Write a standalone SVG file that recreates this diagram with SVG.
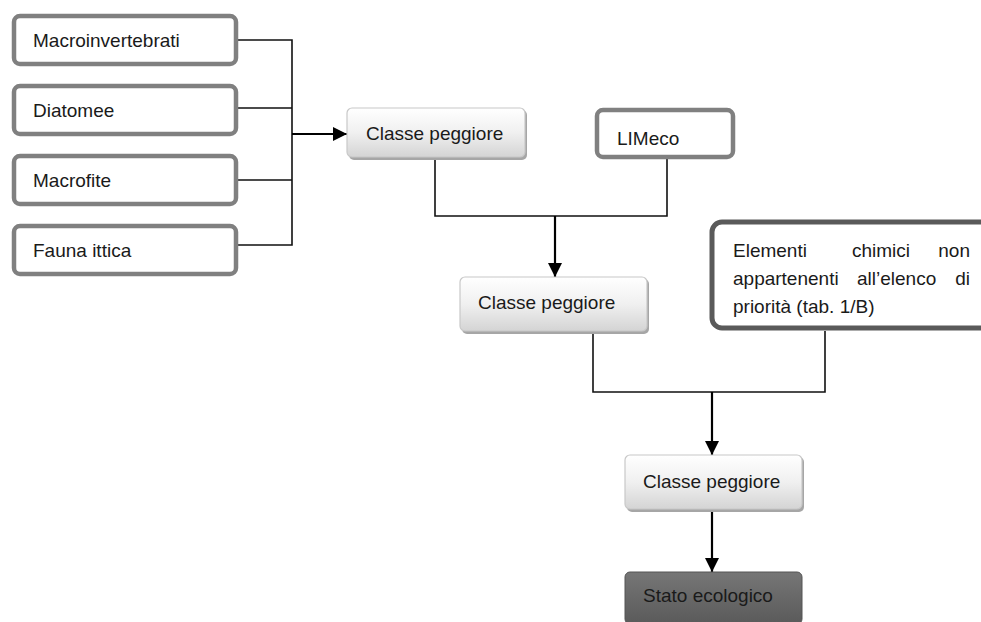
<svg xmlns="http://www.w3.org/2000/svg" width="981" height="622" viewBox="0 0 981 622">
<style>
text{font-family:"Liberation Sans",Arial,sans-serif;font-size:19px;fill:#1a1a1a}
.in{fill:#ffffff;stroke:#808080;stroke-width:4.5}
.cl{fill:url(#g1);stroke:#c8c8c8;stroke-width:1.2}
.sh{fill:#a6a6a6}
.ln{fill:none;stroke:#111;stroke-width:1.6}
.ar{fill:none;stroke:#000;stroke-width:2.2}
</style>
<defs>
<linearGradient id="g1" x1="0" y1="0" x2="0" y2="1">
<stop offset="0" stop-color="#ffffff"/>
<stop offset="0.5" stop-color="#f0f0f0"/>
<stop offset="1" stop-color="#d4d4d4"/>
</linearGradient>
<linearGradient id="g2" x1="0" y1="0" x2="0" y2="1">
<stop offset="0" stop-color="#767676"/>
<stop offset="1" stop-color="#5a5a5a"/>
</linearGradient>
<marker id="ah" markerUnits="userSpaceOnUse" markerWidth="16" markerHeight="14" refX="14" refY="7" orient="auto">
<path d="M0,0 L14,7 L0,14 Z" fill="#000"/>
</marker>
</defs>

<g id="connectors">
<path class="ln" d="M238,40 H292 V245 H238 M238,108 H292 M238,180 H292"/>
<path class="ar" d="M292,134 H347" marker-end="url(#ah)"/>
<path class="ln" d="M435,158 V216 H667 V158"/>
<path class="ar" d="M555,216 V277" marker-end="url(#ah)"/>
<path class="ln" d="M593,332 V392 H825 V331"/>
<path class="ar" d="M712,392 V455" marker-end="url(#ah)"/>
<path class="ar" d="M712,511 V572" marker-end="url(#ah)"/>
</g>

<g id="n-macroinvertebrati">
<rect class="in" x="14" y="16" width="222" height="48" rx="6"/>
<text x="33" y="47">Macroinvertebrati</text>
</g>
<g id="n-diatomee">
<rect class="in" x="14" y="86" width="222" height="48" rx="6"/>
<text x="33" y="117">Diatomee</text>
</g>
<g id="n-macrofite">
<rect class="in" x="14" y="156" width="222" height="48" rx="6"/>
<text x="33" y="187">Macrofite</text>
</g>
<g id="n-fauna">
<rect class="in" x="14" y="226" width="222" height="48" rx="6"/>
<text x="33" y="257">Fauna ittica</text>
</g>

<g id="n-classe1">
<rect class="sh" x="349" y="110" width="178" height="50" rx="5"/>
<rect class="cl" x="347" y="108" width="178" height="49" rx="5"/>
<text x="366" y="140">Classe peggiore</text>
</g>

<g id="n-limeco">
<rect class="in" x="597" y="110" width="136" height="47" rx="6"/>
<text x="617" y="145">LIMeco</text>
</g>

<g id="n-classe2">
<rect class="sh" x="462" y="279" width="187" height="55" rx="5"/>
<rect class="cl" x="460" y="277" width="187" height="54" rx="5"/>
<text x="478" y="309">Classe peggiore</text>
</g>

<g id="n-elementi">
<rect x="712" y="222" width="290" height="106" rx="10" fill="#ffffff" stroke="#5a5a5a" stroke-width="5"/>
<text x="733" y="257">Elementi</text>
<text x="852" y="257">chimici</text>
<text x="970" y="257" text-anchor="end">non</text>
<text x="733" y="285">appartenenti</text>
<text x="857" y="285">all’elenco</text>
<text x="970" y="285" text-anchor="end">di</text>
<text x="733" y="313">priorità (tab. 1/B)</text>
</g>

<g id="n-classe3">
<rect class="sh" x="627" y="457" width="177" height="55" rx="5"/>
<rect class="cl" x="625" y="455" width="177" height="54" rx="5"/>
<text x="643" y="488">Classe peggiore</text>
</g>

<g id="n-stato">
<rect x="625" y="572" width="177" height="52" rx="5" fill="url(#g2)" stroke="#555" stroke-width="1"/>
<text x="643" y="602" fill="#1a1a1a">Stato ecologico</text>
</g>
</svg>
